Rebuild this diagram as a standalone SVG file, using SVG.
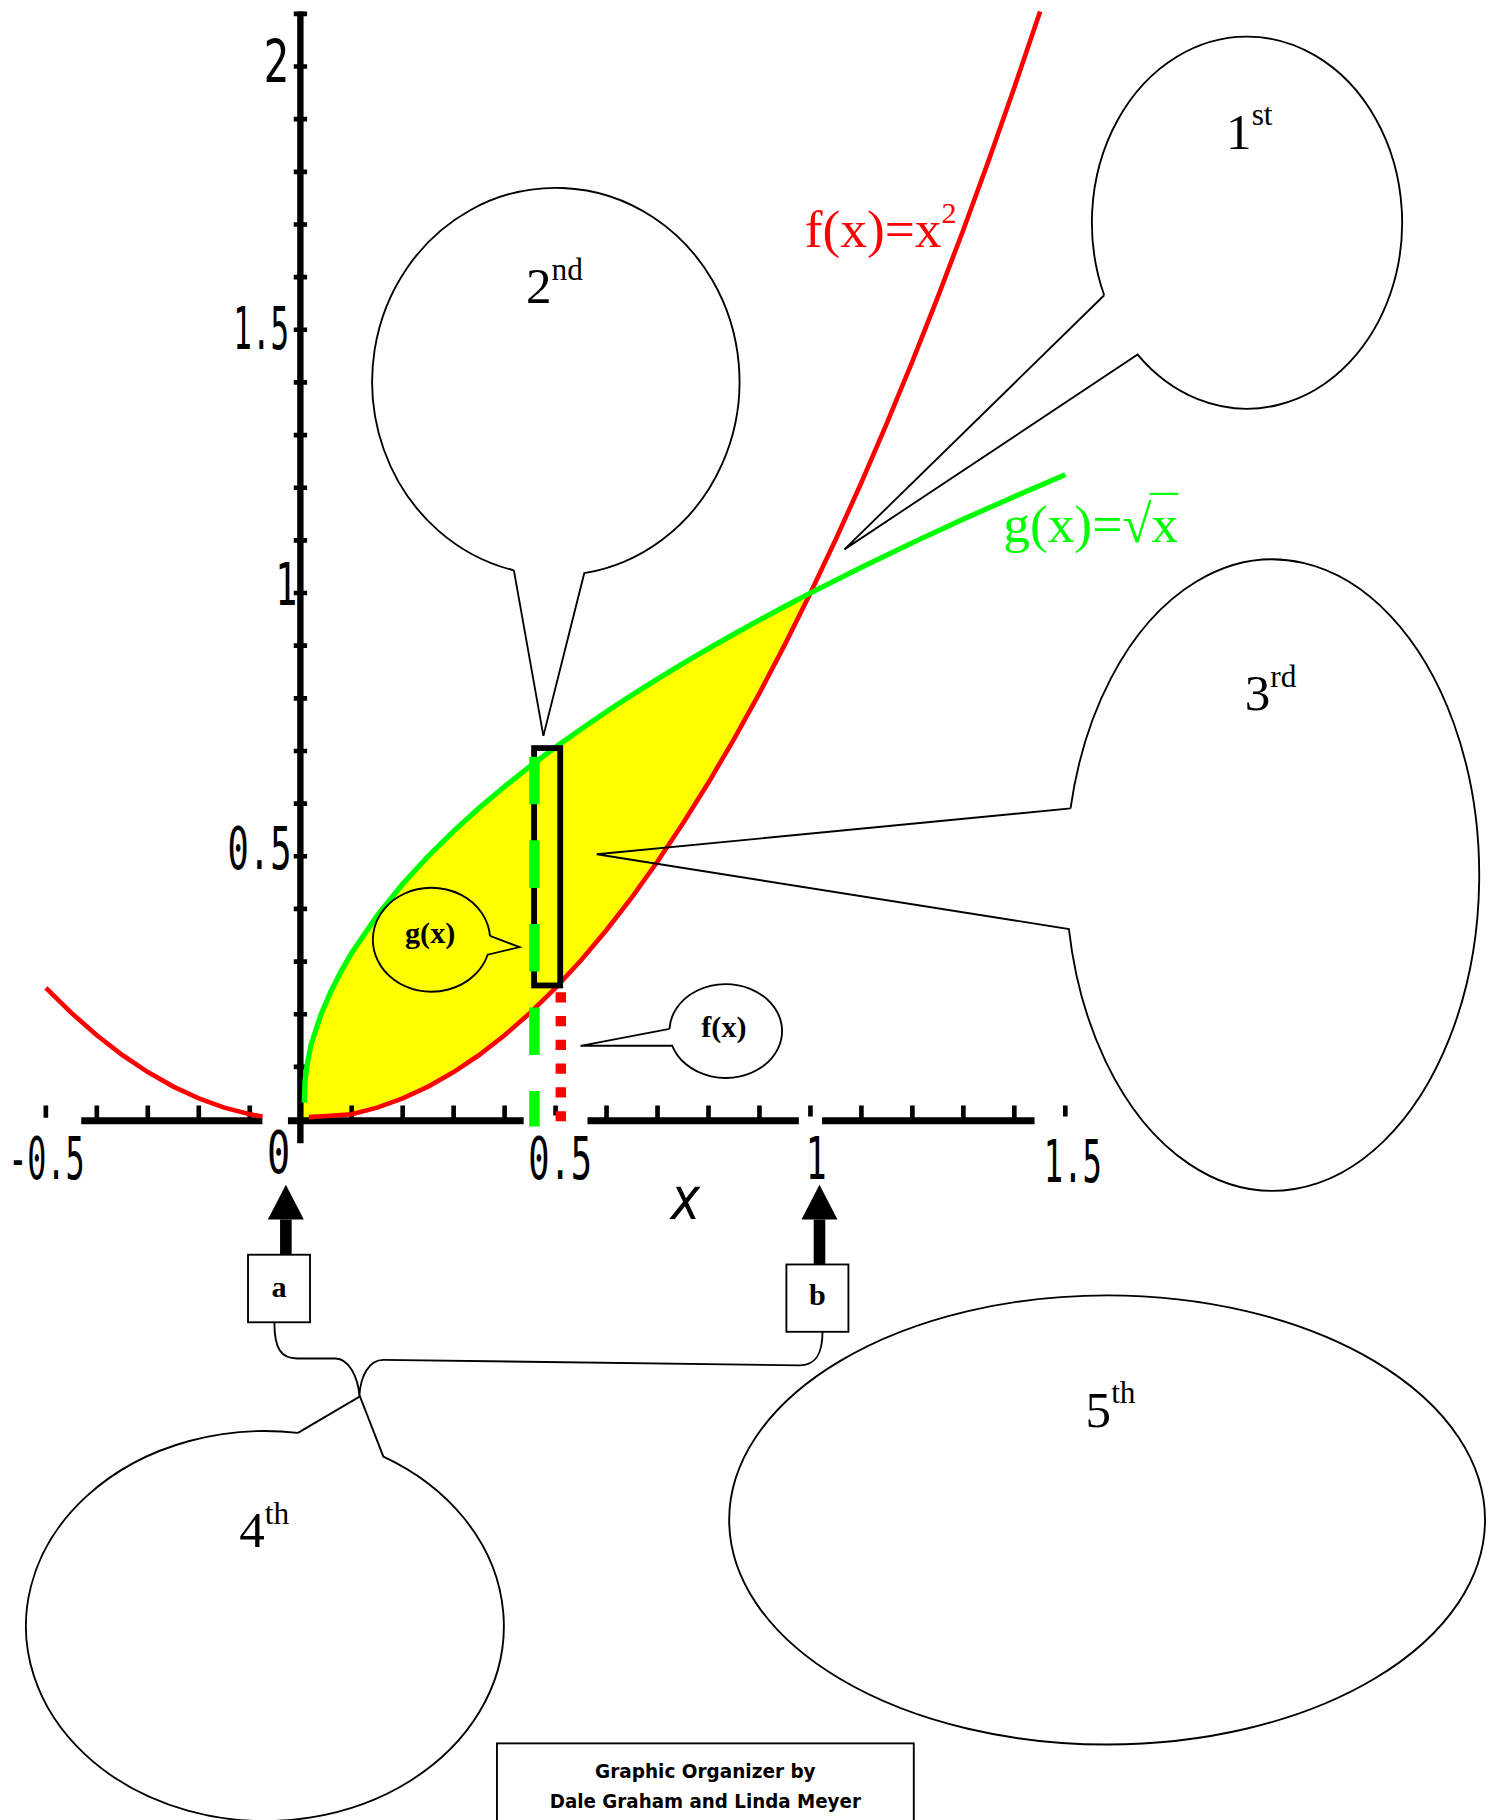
<svg xmlns="http://www.w3.org/2000/svg" width="1492" height="1820" viewBox="0 0 1492 1820">
<style>
.axis{fill:none;stroke:#000;stroke-width:6}
.yaxis{fill:none;stroke:#000;stroke-width:5.5}
.tick{fill:none;stroke:#000;stroke-width:4}
.num{font-family:"DejaVu Sans Mono","Liberation Mono",monospace;font-size:50px;fill:#000}
.bub{fill:none;stroke:#000;stroke-width:1.6;stroke-linejoin:miter}
.ord{font-family:"Liberation Serif","Times New Roman",serif;font-size:44px;fill:#000}
.lbl{font-family:"Liberation Serif","Times New Roman",serif;font-weight:bold;font-size:26px;fill:#000;text-anchor:middle}
.fn{font-family:"Liberation Serif","Times New Roman",serif;font-size:46px}
.credit{font-family:"Comic Sans MS","DejaVu Sans",sans-serif;font-weight:bold;font-size:17px;fill:#000;text-anchor:middle}
.conn{fill:none;stroke:#000;stroke-width:1.6}
.shaft{fill:none;stroke:#000;stroke-width:10}
</style>
<defs>
<marker id="head" markerUnits="userSpaceOnUse" markerWidth="31" markerHeight="32" refX="0" refY="15.5" orient="auto" overflow="visible">
<path d="M0,0 L30,15.5 L0,31 Z" fill="#000"/>
</marker>
</defs>
<rect width="1492" height="1820" fill="#fff"/>
<g transform="scale(1.16109,1.16071)">
<g id="plot">
<polygon id="region" fill="#ff0" points="259,964.5 259.44,950.2 261.2,932.43 263.39,919.14 267.78,900.35 276.56,873.78 285.34,853.39 294.12,836.2 302.9,821.06 324.85,788.82 346.8,761.64 368.75,737.7 390.7,716.06 412.65,696.15 434.6,677.62 456.55,660.21 478.5,643.76 500.45,628.1 522.4,613.14 544.35,598.79 566.3,584.98 588.25,571.67 610.2,558.79 632.15,546.31 654.1,534.18 676.05,522.39 698,510.9 676.05,555.13 654.1,597.08 632.15,636.77 610.2,674.2 588.25,709.35 566.3,742.24 544.35,772.85 522.4,801.2 500.45,827.29 478.5,851.1 456.55,872.65 434.6,891.92 412.65,908.93 390.7,923.68 368.75,936.15 346.8,946.36 324.85,954.29 302.9,959.96 280.95,963.37"/>
<path class="yaxis" d="M258.7,10 V985"/>
<path class="tick" d="M253,919.14h11.5M253,873.78h11.5M253,828.42h11.5M253,783.06h11.5M253,737.7h11.5M253,692.34h11.5M253,646.98h11.5M253,601.62h11.5M253,556.26h11.5M253,510.9h11.5M253,465.54h11.5M253,420.18h11.5M253,374.82h11.5M253,329.46h11.5M253,284.1h11.5M253,238.74h11.5M253,193.38h11.5M253,148.02h11.5M253,102.66h11.5M253,57.3h11.5M253,11.94h11.5"/>
<path class="axis" d="M70,965.5H226M248,965.5H451M506,965.5H688M708,965.5H891"/>
<path class="tick" d="M39.5,952.5V963M83.4,952.5V965M127.3,952.5V965M171.2,952.5V965M215.1,952.5V965M302.9,952.5V965M346.8,952.5V965M390.7,952.5V965M434.6,952.5V965M478.5,952.5V961M522.4,952.5V965M566.3,952.5V965M610.2,952.5V965M654.1,952.5V965M698,952.5V962M741.9,952.5V965M785.8,952.5V965M829.7,952.5V965M873.6,952.5V965M917.5,952.5V962"/>
<polyline id="f-left" fill="none" stroke="#f00" stroke-width="4" points="39.5,851.1 61.45,872.65 83.4,891.92 105.35,908.93 127.3,923.68 149.25,936.15 171.2,946.36 193.15,954.29 215.1,959.96 226.1,961.95"/>
<polyline id="f-right" fill="none" stroke="#f00" stroke-width="4" points="266,962.5 280.95,961.5 302.9,959.96 324.85,954.29 346.8,946.36 368.75,936.15 390.7,923.68 412.65,908.93 434.6,891.92 456.55,872.65 478.5,851.1 500.45,827.29 522.4,801.2 544.35,772.85 566.3,742.24 588.25,709.35 610.2,674.2 632.15,636.77 654.1,597.08 676.05,555.13 698,510.9 719.95,464.41 741.9,415.64 763.85,364.61 785.8,311.32 807.75,255.75 829.7,197.92 851.65,137.83 873.6,75.44 895.8,10"/>
<polyline id="g-curve" fill="none" stroke="#0f0" stroke-width="4.5" points="262,950 262.6,932.43 264.2,919.14 267.78,900.35 276.56,873.78 285.34,853.39 294.12,836.2 302.9,821.06 324.85,788.82 346.8,761.64 368.75,737.7 390.7,716.06 412.65,696.15 434.6,677.62 456.55,660.21 478.5,643.76 500.45,628.1 522.4,613.14 544.35,598.79 566.3,584.98 588.25,571.67 610.2,558.79 632.15,546.31 654.1,534.18 676.05,522.39 698,510.9 741.9,488.76 785.8,467.6 829.7,447.31 873.6,427.79 917.5,408.96"/>
<rect id="strip" x="460" y="644.5" width="22.5" height="204.5" fill="none" stroke="#000" stroke-width="5"/>
<path id="g-height" d="M460.3,652V970.5" stroke="#0f0" stroke-width="9" stroke-dasharray="41 31"/>
<path id="f-height" d="M483,854.8V967" stroke="#f00" stroke-width="9" stroke-dasharray="8.8 11.7"/>
</g>
<g id="axis-labels" class="num">
<text x="227" y="71" textLength="22" lengthAdjust="spacingAndGlyphs">2</text>
<text x="201" y="301" textLength="48" lengthAdjust="spacingAndGlyphs">1.5</text>
<text x="237" y="521" textLength="19" lengthAdjust="spacingAndGlyphs">1</text>
<text x="196" y="749" textLength="55" lengthAdjust="spacingAndGlyphs">0.5</text>
<text x="7" y="1016" textLength="66" lengthAdjust="spacingAndGlyphs">-0.5</text>
<text x="230" y="1011" textLength="20" lengthAdjust="spacingAndGlyphs">0</text>
<text x="455" y="1016" textLength="55" lengthAdjust="spacingAndGlyphs">0.5</text>
<text x="694" y="1016" textLength="18" lengthAdjust="spacingAndGlyphs">1</text>
<text x="899" y="1018" textLength="50" lengthAdjust="spacingAndGlyphs">1.5</text>
<text x="578" y="1050" textLength="26" lengthAdjust="spacingAndGlyphs" font-style="italic">x</text>
</g>
<g id="f-label">
<text class="fn" x="693" y="213" fill="#f00">f(x)=x<tspan dy="-21" font-size="26">2</tspan></text>
</g>
<g id="g-label">
<text class="fn" x="864" y="467" fill="#0f0">g(x)=√x</text>
<path d="M990,425.5H1015" stroke="#0f0" stroke-width="1.8"/>
</g>
<g id="bubble-1">
<path class="bub" d="M951,254.4 L727.3,473.3 L979.8,305.5 A133.6,160.3 0 1 0 951,254.4"/>
<text class="ord" x="1056" y="128">1<tspan dy="-20" font-size="27">st</tspan></text>
</g>
<g id="bubble-2">
<path class="bub" d="M442.6,491.4 L468,634 L503.2,493.8 A158.2,167 0 1 0 442.6,491.4"/>
<text class="ord" x="453" y="261">2<tspan dy="-20" font-size="27">nd</tspan></text>
</g>
<g id="bubble-3">
<path class="bub" d="M922,696.5 L514,736 L920.6,800.4 A178,272 0 1 0 922,696.5"/>
<text class="ord" x="1072" y="612">3<tspan dy="-20" font-size="27">rd</tspan></text>
</g>
<g id="bubble-4">
<path class="bub" d="M256.6,1234.5 L310,1203 L330.2,1255 A205.8,168 0 1 1 256.6,1234.5"/>
<text class="ord" x="206" y="1333">4<tspan dy="-20" font-size="27">th</tspan></text>
</g>
<g id="bubble-5">
<ellipse class="bub" cx="953.5" cy="1309.5" rx="325.5" ry="193.5"/>
<text class="ord" x="935" y="1229">5<tspan dy="-20" font-size="27">th</tspan></text>
</g>
<g id="bubble-gx">
<path class="bub" d="M422,806.3 L447.5,816 L420,822.5 A50.5,44.8 0 1 1 422,806.3"/>
<text class="lbl" x="370.5" y="812.6">g(x)</text>
</g>
<g id="bubble-fx">
<path class="bub" d="M576.6,886.4 L500,901 L579,901 A48.5,40.4 0 1 0 576.6,886.4"/>
<text class="lbl" x="623.5" y="893.4">f(x)</text>
</g>
<g id="box-a">
<rect x="213.6" y="1081" width="53.4" height="58.2" fill="#fff" stroke="#000" stroke-width="1.6"/>
<text class="lbl" font-size="28" x="240.3" y="1117">a</text>
</g>
<g id="box-b">
<rect x="677.3" y="1089.4" width="53.4" height="58" fill="#fff" stroke="#000" stroke-width="1.6"/>
<text class="lbl" font-size="28" x="704" y="1124.5">b</text>
</g>
<g id="connectors">
<path class="shaft" d="M246.2,1081V1050.7" marker-end="url(#head)"/>
<path class="shaft" d="M705.8,1089.4V1050.7" marker-end="url(#head)"/>
<path class="conn" d="M236.3,1139.2 C236.3,1162 242,1170.4 256,1170.4 L289,1170.4 C300,1170.4 308.5,1186 309.5,1202.7 C310.5,1185 318,1171.6 330.2,1171.6 L688.6,1176.3 C703,1176.3 708.4,1166 708.4,1147.4"/>
</g>
<g id="credit">
<rect x="428" y="1502" width="359" height="90" fill="#fff" stroke="#000" stroke-width="1.6"/>
<text class="credit" x="607.5" y="1531.6" textLength="190" lengthAdjust="spacingAndGlyphs">Graphic Organizer by</text>
<text class="credit" x="607.5" y="1557.4" textLength="268" lengthAdjust="spacingAndGlyphs">Dale Graham and Linda Meyer</text>
</g>
</g>
</svg>
